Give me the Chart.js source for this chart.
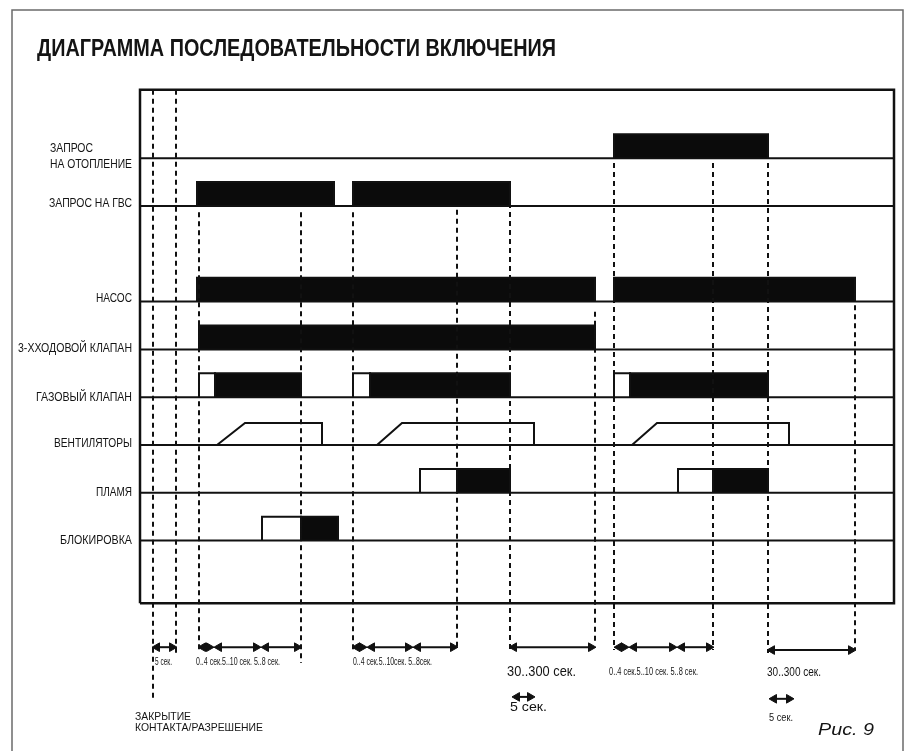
<!DOCTYPE html>
<html>
<head>
<meta charset="utf-8">
<title>Диаграмма последовательности включения</title>
<script src="https://cdn.jsdelivr.net/npm/chart.js@4.4.1/dist/chart.umd.min.js"></script>
<style>
  html, body { margin: 0; padding: 0; background: #fff; }
  #wrap { width: 906px; height: 751px; }
</style>
</head>
<body>
<div id="wrap"><canvas id="seqChart" width="906" height="751"></canvas></div>
<script>
/* ================================
   Data: signal rows and timing
   (time in diagram units, 0 = left edge of the box)
================================ */
const rowNames = ["ЗАПРОС НА ОТОПЛЕНИЕ", "ЗАПРОС НА ГВС", "НАСОС", "3-ХХОДОВОЙ КЛАПАН",
                  "ГАЗОВЫЙ КЛАПАН", "ВЕНТИЛЯТОРЫ", "ПЛАМЯ", "БЛОКИРОВКА"];
const rowLevels = [9, 8, 6, 5, 4, 3, 2, 1];

const boxTime = [0, 754];
const boxLevel = [-0.31, 10.43];

// [start, end] of active (black) and waiting (white) states per row
const heatOn = [[474, 628]];
const dhwOn = [[57, 194], [213, 370]];
const pumpOn = [[57, 455], [474, 715]];
const valve3On = [[59, 455]];
const gasWait = [[59, 75], [213, 230], [474, 490]];
const gasOn = [[75, 161], [230, 370], [490, 628]];
const fanRamps = [[77, 105, 182], [237, 262, 394], [492, 517, 649]]; // start, full speed, stop
const flameWait = [[280, 317], [538, 573]];
const flameOn = [[317, 370], [573, 628]];
const lockWait = [[122, 161]];
const lockOn = [[161, 198]];

// dashed markers: [time, from level, to level]
const markers = [
  [13, 10.43, -2.33], [36, 10.43, -1.35], [59, 7.87, -1.35], [161, 7.87, -1.56],
  [213, 7.87, -1.29], [317, 7.92, -1.29], [370, 8.44, -1.35], [455, 5.79, -1.18],
  [474, 8.9, -1.29], [573, 8.9, -1.29], [628, 8.9, -1.35], [715, 6.49, -1.29]
];

// interval arrows: [from, to, level]
const spans = [
  [13, 36, -1.23],
  [59, 73, -1.23], [75, 120, -1.23], [122, 161, -1.23],
  [213, 226, -1.23], [228, 272, -1.23], [274, 317, -1.23],
  [370, 455, -1.23],
  [475, 488, -1.23], [490, 536, -1.23], [538, 573, -1.23],
  [628, 715, -1.29],
  [373, 394, -2.27], [630, 653, -2.31]
];

/* ================================
   Text annotations
   [text, time, level, font, align, width]
================================ */
const SANS = '"Liberation Sans", Arial, sans-serif';
const notes = [
  ["ДИАГРАММА ПОСЛЕДОВАТЕЛЬНОСТИ ВКЛЮЧЕНИЯ", -103, 11.27, "bold 24px " + SANS, "left", 519],
  ["ЗАПРОС", -90, 9.21, "12.5px " + SANS, "left", 43],
  ["НА ОТОПЛЕНИЕ", -90, 8.87, "12.5px " + SANS, "left", 82],
  ["ЗАПРОС НА ГВС", -8, 8.06, "12.5px " + SANS, "right", 83],
  ["НАСОС", -8, 6.06, "12.5px " + SANS, "right", 36],
  ["3-ХХОДОВОЙ КЛАПАН", -8, 5.02, "12.5px " + SANS, "right", 114],
  ["ГАЗОВЫЙ КЛАПАН", -8, 4.0, "12.5px " + SANS, "right", 96],
  ["ВЕНТИЛЯТОРЫ", -8, 3.02, "12.5px " + SANS, "right", 78],
  ["ПЛАМЯ", -8, 2.0, "12.5px " + SANS, "right", 36],
  ["БЛОКИРОВКА", -8, 1.0, "12.5px " + SANS, "right", 72],
  ["5 сек.", 15, -1.54, "10.5px " + SANS, "left", 17],
  ["0..4 сек.5..10 сек. 5..8 сек.", 56, -1.54, "10.5px " + SANS, "left", 84],
  ["0..4 сек.5..10сек. 5..8сек.", 213, -1.54, "10.5px " + SANS, "left", 79],
  ["30..300 сек.", 367, -1.75, "14px " + SANS, "left", 69],
  ["5 сек.", 370, -2.5, "13px " + SANS, "left", 37],
  ["0..4 сек.5..10 сек. 5..8 сек.", 469, -1.75, "10.5px " + SANS, "left", 89],
  ["30..300 сек.", 627, -1.75, "13px " + SANS, "left", 54],
  ["5 сек.", 629, -2.71, "10.5px " + SANS, "left", 24],
  ["ЗАКРЫТИЕ", -5, -2.69, "11px " + SANS, "left", 56],
  ["КОНТАКТА/РАЗРЕШЕНИЕ", -5, -2.92, "11px " + SANS, "left", 128],
  ["Рис. 9", 678, -2.96, "italic 17px " + SANS, "left", 56]
];

/* ================================
   Dataset builders
================================ */
const INK = "#111111";

function lineSet(points, extra) {
  return Object.assign({
    data: points,
    borderColor: INK,
    borderWidth: 2,
    pointRadius: 0,
    fill: false,
    tension: 0
  }, extra || {});
}

function pulse(t0, t1, level, height, filled) {
  const pts = [{x: t0, y: level}, {x: t0, y: level + height}, {x: t1, y: level + height}, {x: t1, y: level}];
  return lineSet(pts, filled ? {fill: {value: level}, backgroundColor: "#0b0b0b"} : {});
}

function buildDatasets() {
  const sets = [];
  const lv = rowLevels;

  // outer frame of the page
  sets.push(lineSet([{x: -128, y: -3.6}, {x: -128, y: 12.1}, {x: 763, y: 12.1}, {x: 763, y: -3.6}],
    {borderColor: "#6b6b6b", borderWidth: 1.5}));

  // plot box
  sets.push(lineSet([
    {x: boxTime[0], y: boxLevel[0]}, {x: boxTime[0], y: boxLevel[1]},
    {x: boxTime[1], y: boxLevel[1]}, {x: boxTime[1], y: boxLevel[0]},
    {x: boxTime[0], y: boxLevel[0]}
  ], {borderWidth: 2.5}));

  // baselines
  lv.forEach((l) => sets.push(lineSet([{x: boxTime[0], y: l}, {x: boxTime[1], y: l}])));

  // dashed markers
  markers.forEach(([t, a, b]) => sets.push(lineSet([{x: t, y: a}, {x: t, y: b}],
    {borderDash: [5, 4], borderWidth: 2})));

  const H = 0.5;
  heatOn.forEach(([a, b]) => sets.push(pulse(a, b, lv[0], H, true)));
  dhwOn.forEach(([a, b]) => sets.push(pulse(a, b, lv[1], H, true)));
  pumpOn.forEach(([a, b]) => sets.push(pulse(a, b, lv[2], H, true)));
  valve3On.forEach(([a, b]) => sets.push(pulse(a, b, lv[3], H, true)));
  gasWait.forEach(([a, b]) => sets.push(pulse(a, b, lv[4], H, false)));
  gasOn.forEach(([a, b]) => sets.push(pulse(a, b, lv[4], H, true)));
  fanRamps.forEach(([a, m, b]) => sets.push(lineSet([
    {x: a, y: lv[5]}, {x: m, y: lv[5] + 0.46}, {x: b, y: lv[5] + 0.46}, {x: b, y: lv[5]}
  ])));
  flameWait.forEach(([a, b]) => sets.push(pulse(a, b, lv[6], H, false)));
  flameOn.forEach(([a, b]) => sets.push(pulse(a, b, lv[6], H, true)));
  lockWait.forEach(([a, b]) => sets.push(pulse(a, b, lv[7], H, false)));
  lockOn.forEach(([a, b]) => sets.push(pulse(a, b, lv[7], H, true)));

  // double-headed interval arrows
  spans.forEach(([a, b, l]) => sets.push(lineSet([{x: a + 4, y: l}, {x: b - 4, y: l}], {
    pointRadius: 5,
    pointStyle: "triangle",
    pointRotation: [-90, 90],
    pointBackgroundColor: INK,
    pointBorderColor: INK,
    pointBorderWidth: 1
  })));

  return sets;
}

/* ================================
   Plugin: text labels at scale positions
================================ */
const textPlugin = {
  id: "seqText",
  afterDatasetsDraw(chart) {
    const {ctx, scales} = chart;
    ctx.save();
    ctx.fillStyle = "#141414";
    ctx.textBaseline = "middle";
    notes.forEach(([txt, t, l, font, align, width]) => {
      ctx.font = font;
      const px = scales.x.getPixelForValue(t);
      const py = scales.y.getPixelForValue(l);
      const w = ctx.measureText(txt).width;
      const k = width / w;
      ctx.save();
      ctx.translate(px, py);
      ctx.scale(k, 1);
      ctx.textAlign = align;
      ctx.fillText(txt, 0, 0);
      ctx.restore();
    });
    ctx.restore();
  }
};

/* ================================
   Chart
================================ */
document.addEventListener("DOMContentLoaded", () => {
  const ctx = document.getElementById("seqChart").getContext("2d");
  new Chart(ctx, {
    type: "line",
    data: { datasets: buildDatasets() },
    options: {
      responsive: false,
      animation: false,
      devicePixelRatio: 1,
      layout: { padding: 0, autoPadding: false },
      plugins: {
        legend: { display: false },
        tooltip: { enabled: false }
      },
      scales: {
        x: { type: "linear", min: -140, max: 766, display: false },
        y: { type: "linear", min: -3.4017, max: 12.3096, display: false }
      }
    },
    plugins: [textPlugin]
  });
});
</script>
</body>
</html>
